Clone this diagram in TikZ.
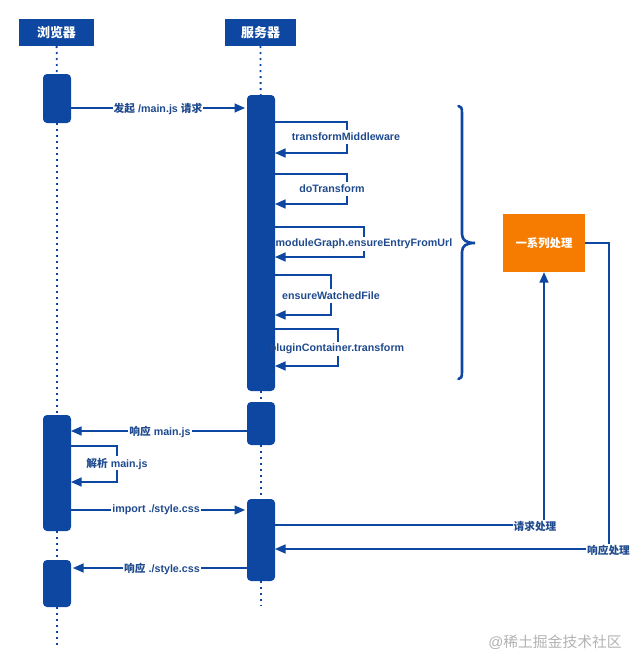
\documentclass[tikz,border=0pt]{standalone}
\usepackage{fontspec}
\setmainfont{Liberation Sans}
\newfontfamily\cjk{Noto Sans CJK SC}
\usetikzlibrary{arrows.meta}
\definecolor{seqblue}{HTML}{0D47A1}
\definecolor{seqtext}{HTML}{1F4A8E}
\definecolor{seqorange}{HTML}{F57C00}
\newcommand{\zh}[1]{{\cjk #1}}
\tikzset{%
   head/.style={rectangle, inner sep=0mm, outer sep=0mm, fill=seqblue, text=white, minimum height=27pt, font=\bfseries\fontsize{13}{13}\selectfont},
   act/.style={rectangle, rounded corners=4pt, inner sep=0mm, outer sep=0mm, fill=seqblue, minimum width=28pt},
   life/.style={seqblue, line width=1.8pt, dash pattern=on 2pt off 4pt},
   msg/.style={seqblue, line width=1.5pt, -{Triangle[length=10.5pt, width=9pt]}},
   wire/.style={seqblue, line width=1.5pt},
   lbl/.style={inner sep=1pt, text=seqtext, font=\bfseries\fontsize{10.7}{10.7}\selectfont},
   lblw/.style={lbl, fill=white},
}

\begin{document}
\begin{tikzpicture}[x=1pt, y=-1pt]
      \useasboundingbox (0,0) rectangle (640,667);
      % heads
      \node[head, minimum width=75pt] (hb) at (56.5,32.5) {\zh{浏览器}};
      \node[head, minimum width=71pt] (hs) at (260.5,32.5) {\zh{服务器}};
      % activations
      \node[act, minimum height=49pt] (b1) at (57,98.5) {};
      \node[act, minimum height=116pt] (b2) at (57,473) {};
      \node[act, minimum height=47pt] (b3) at (57,583.5) {};
      \node[act, minimum height=296pt] (s1) at (261,243) {};
      \node[act, minimum height=43pt] (s2) at (261,423.5) {};
      \node[act, minimum height=82pt] (s3) at (261,540) {};
      \coordinate (bend) at (57,647);
      \coordinate (send) at (261,606);
      % lifelines
      \draw[life] (hb) -- (b1);
      \draw[life] (b1) -- (b2);
      \draw[life] (b2) -- (b3);
      \draw[life] (b3) -- (bend);
      \draw[life] (hs) -- (s1);
      \draw[life] (s1) -- (s2);
      \draw[life] (s2) -- (s3);
      \draw[life] (s3) -- (send);
      % self calls
      \foreach \xr/\yt/\ym/\yb/\xl/\nm/\txt in {
         347/122/137/153/346/t1/transformMiddleware,
         347/174/189/204/332/t2/doTransform,
         364/227/243.5/257/364/t3/moduleGraph.ensureEntryFromUrl,
         331/275/296/315/331/t4/ensureWatchedFile,
         338/329/349/366/337/t5/pluginContainer.transform}
      {
         \draw[msg] (s1.east |- 0,\yt) -| (\xr,\ym-7) (\xr,\ym+7) |- (s1.east |- 0,\yb);
         \node[lbl] (\nm) at (\xl,\ym) {\txt};
      }
      \draw[msg] (b2.east |- 0,446) -| (117,456) (117,470) |- (b2.east |- 0,482);
      \node[lbl] (parse) at (117,464) {\zh{解析} main.js};
      % messages
      \draw[msg, shorten >=2pt] (b1.east |- 0,108) -- (s1.west |- 0,108);
      \node[lblw] (req) at (158,109) {\zh{发起} /main.js \zh{请求}};
      \draw[msg] (s2.west |- 0,431) -- (b2.east |- 0,431);
      \node[lblw] (resp) at (160,432) {\zh{响应} main.js};
      \draw[msg, shorten >=2pt] (b2.east |- 0,510) -- (s3.west |- 0,510);
      \node[lblw] (imp) at (156,510) {import ./style.css};
      \draw[msg, shorten >=2pt] (s3.west |- 0,568) -- (b3.east |- 0,568);
      \node[lblw] (respc) at (162,569) {\zh{响应} ./style.css};
      % brace
      \draw[seqblue, line width=2.6pt, line cap=round] (458.5,106) .. controls (461,106) and (462,108) .. (462,113) -- (462,234)
         .. controls (462,240) and (466,243) .. (475,243) .. controls (466,243) and (462,246) .. (462,252) -- (462,372)
         .. controls (462,377) and (461,379) .. (458.5,379);
      % processing
      \node[rectangle, inner sep=0mm, fill=seqorange, text=white, minimum width=82pt, minimum height=58pt, font=\bfseries\fontsize{11.4}{11.4}\selectfont] (proc) at (544,243) {\zh{一系列处理}};
      \draw[msg] (s3.east |- 0,525) -| (proc.south);
      \node[lblw] (preq) at (535,526) {\zh{请求处理}};
      \draw[wire] (proc.east) -| (609,549);
      \draw[msg] (609,549) -- (s3.east |- 0,549);
      \node[lblw] (presp) at (608.5,550) {\zh{响应处理}};
      % mark
      \node[inner sep=0pt, text=black!30, font=\fontsize{14.8}{14.8}\selectfont] (mark) at (555,642.5) {@\zh{稀土掘金技术社区}};
   \end{tikzpicture}
\end{document}
